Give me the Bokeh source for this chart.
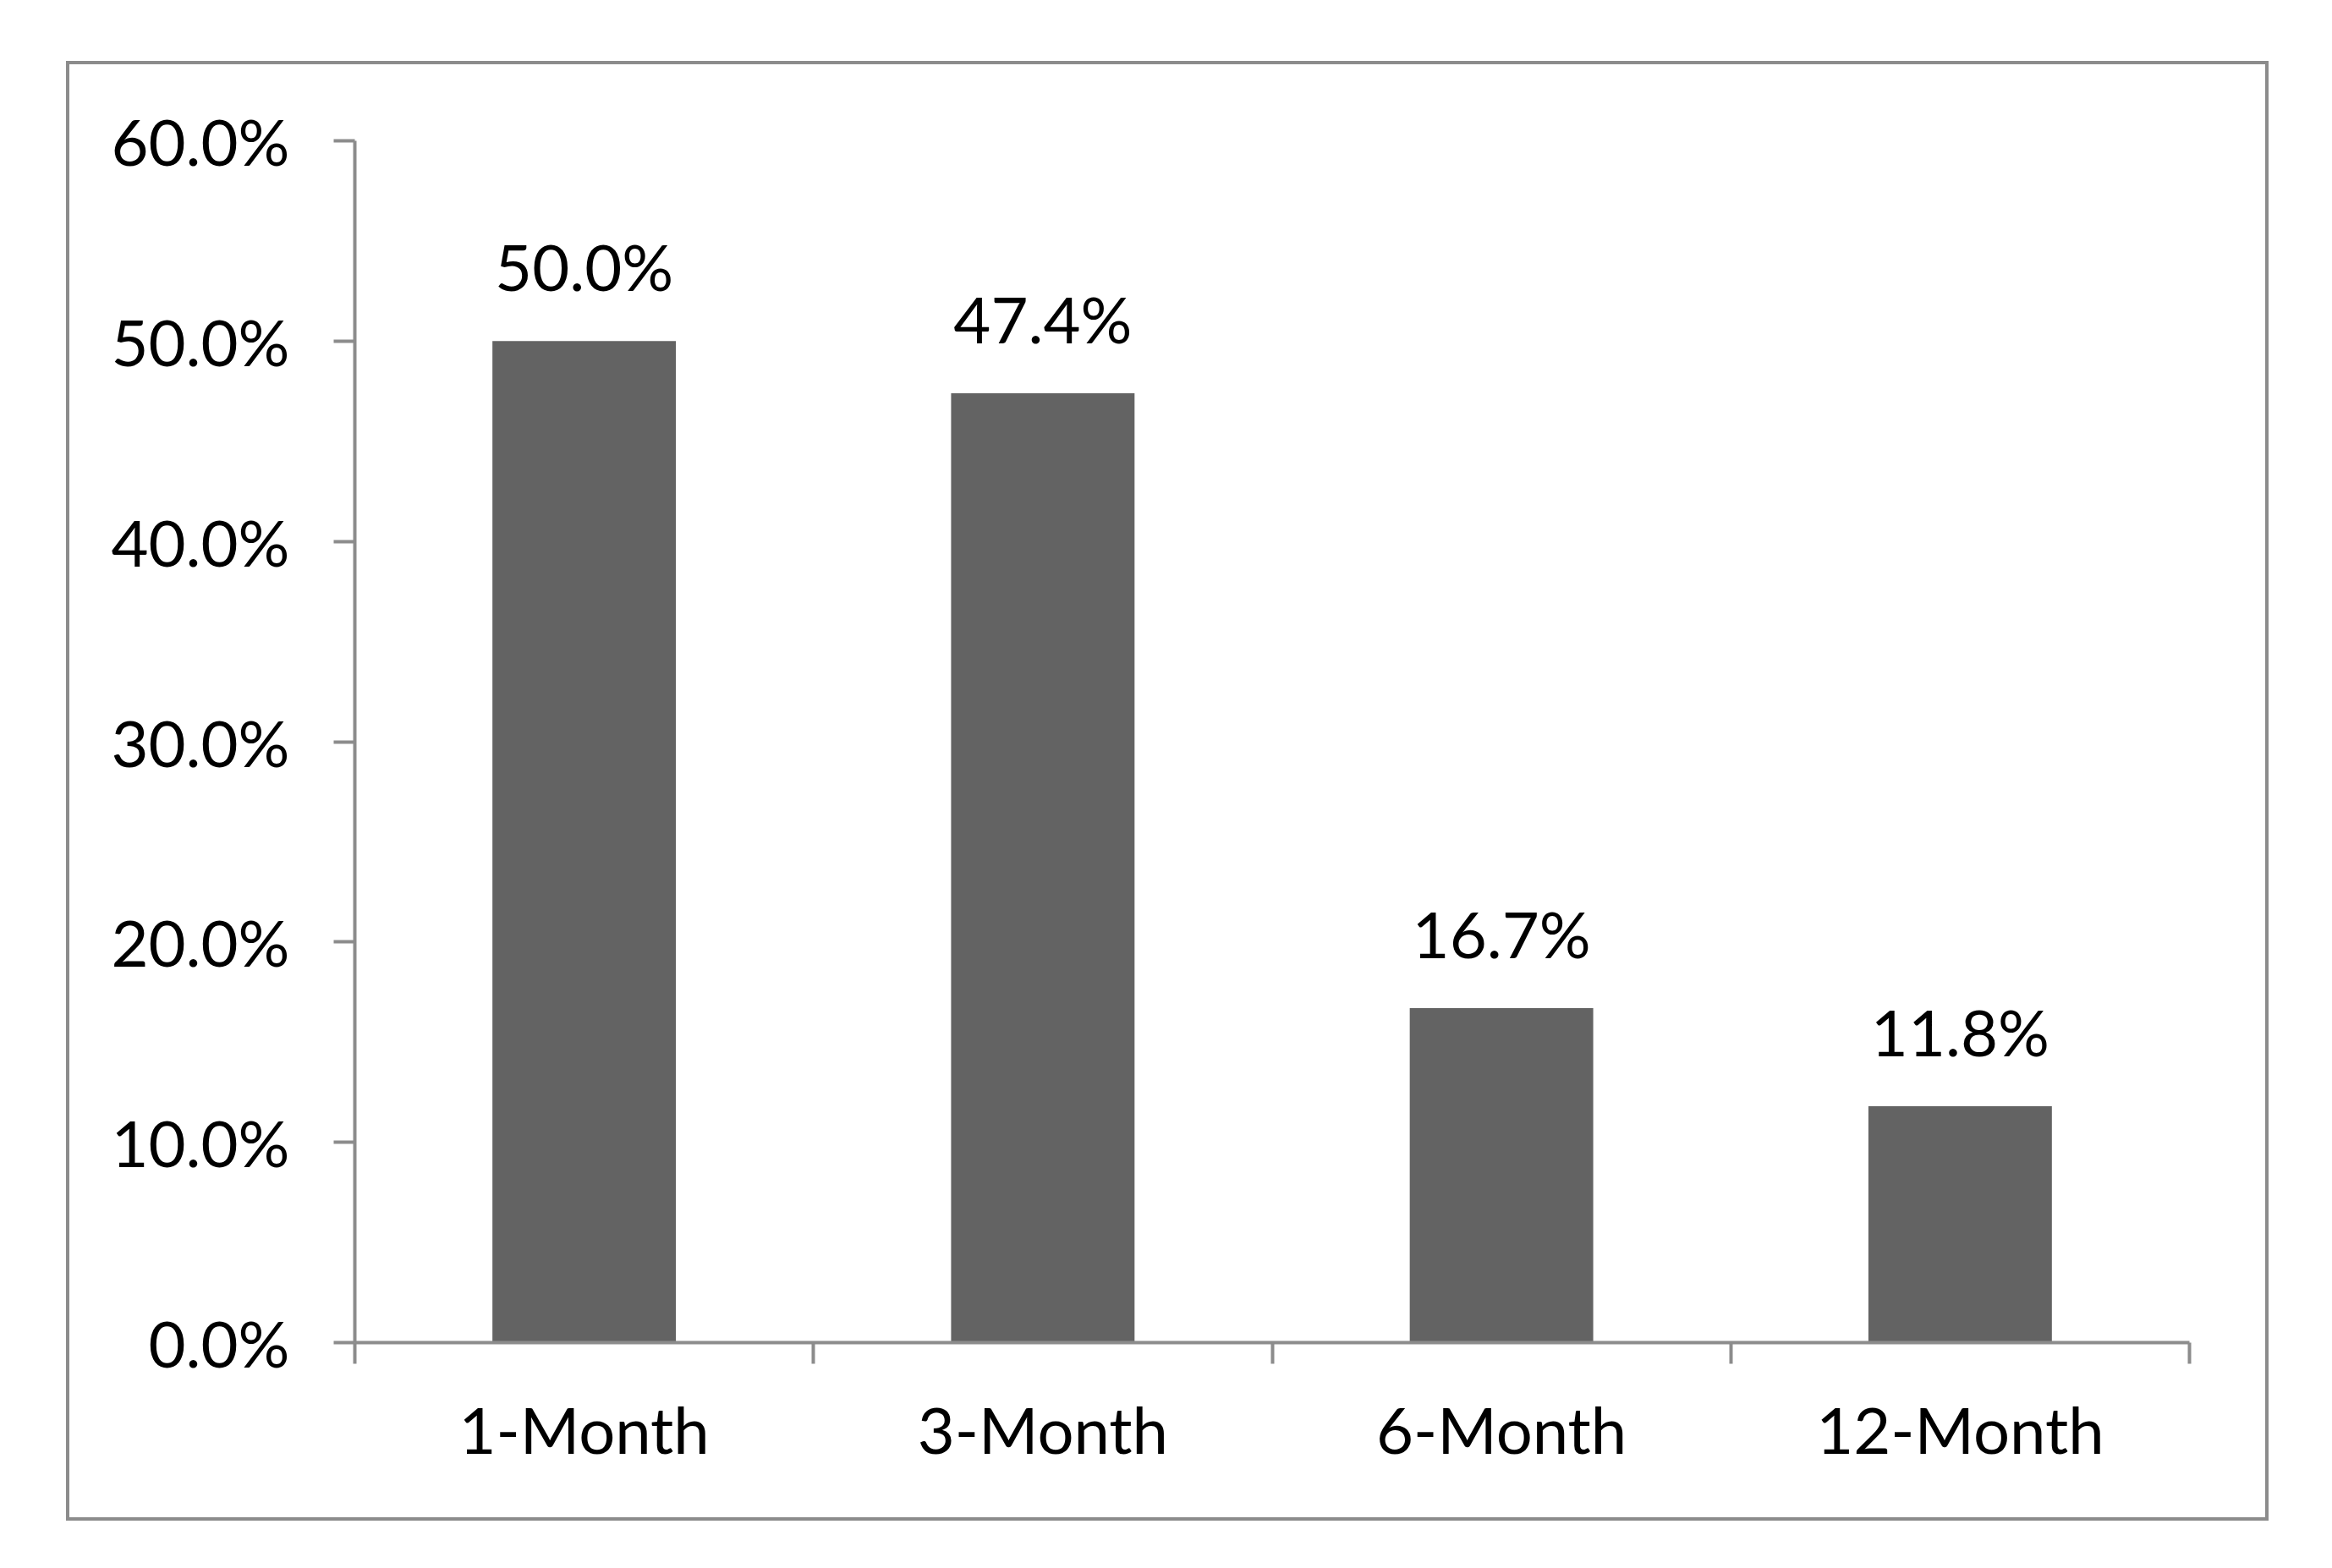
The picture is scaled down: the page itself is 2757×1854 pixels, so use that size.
from bokeh.plotting import figure
from bokeh.models import (ColumnDataSource, Range1d, FixedTicker, NumeralTickFormatter,
                          LabelSet)
from bokeh.core.properties import value
from bokeh.embed import file_html
from bokeh.resources import INLINE

categories = ["1-Month", "3-Month", "6-Month", "12-Month"]
values = [0.500, 0.474, 0.167, 0.118]
value_labels = ["50.0%", "47.4%", "16.7%", "11.8%"]
y_ticks = [0.0, 0.1, 0.2, 0.3, 0.4, 0.5, 0.6]

FONT = "Lato"
GRAY = "#8c8c8c"
BAR = "#636363"

# figure box = inside of the chart's outer border
W, H = 2596, 1718
x_pos = [i + 0.5 for i in range(len(categories))]

src = ColumnDataSource(dict(x=x_pos, top=values, label=value_labels))

p = figure(width=W, height=H, output_backend="svg", toolbar_location=None,
           x_range=Range1d(0, len(categories)), y_range=Range1d(0, 0.6),
           min_border_left=337, min_border_right=90, min_border_top=90,
           min_border_bottom=207, margin=(76, 0, 0, 82))
p.styles = {"outline": "4px solid " + GRAY}
p.background_fill_color = "white"
p.border_fill_color = "white"
p.outline_line_color = None
p.xgrid.visible = False
p.ygrid.visible = False

p.vbar(x="x", top="top", width=0.4, bottom=0, source=src, fill_color=BAR, line_color=None)

labels = LabelSet(x="x", y="top", text="label", source=src, text_align="center",
                  text_baseline="alphabetic", y_offset=59, text_font=value(FONT),
                  text_font_size=value("76px"), text_color="black")
p.add_layout(labels)

# y axis
ya = p.yaxis[0]
ya.ticker = FixedTicker(ticks=y_ticks, minor_ticks=[])
ya.formatter = NumeralTickFormatter(format="0.0%")
ya.axis_line_color = GRAY
ya.axis_line_width = 4
ya.major_tick_line_color = GRAY
ya.major_tick_line_width = 4
ya.major_tick_out = 25
ya.major_tick_in = 0
ya.minor_tick_line_color = None
ya.major_label_standoff = 52
ya.major_label_text_font = FONT
ya.major_label_text_font_size = "76px"
ya.major_label_text_color = "black"

# x axis: category labels at centres, boundary ticks as minor ticks
xa = p.xaxis[0]
xa.ticker = FixedTicker(ticks=x_pos, minor_ticks=list(range(len(categories) + 1)))
xa.major_label_overrides = {x: c for x, c in zip(x_pos, categories)}
xa.axis_line_color = GRAY
xa.axis_line_width = 4
xa.major_tick_line_color = None
xa.major_tick_out = 0
xa.major_tick_in = 0
xa.minor_tick_line_color = GRAY
xa.minor_tick_line_width = 4
xa.minor_tick_out = 25
xa.minor_tick_in = 0
xa.major_label_standoff = 31
xa.major_label_text_font = FONT
xa.major_label_text_font_size = "76px"
xa.major_label_text_color = "black"

open("out.html", "w").write(file_html(p, INLINE))
